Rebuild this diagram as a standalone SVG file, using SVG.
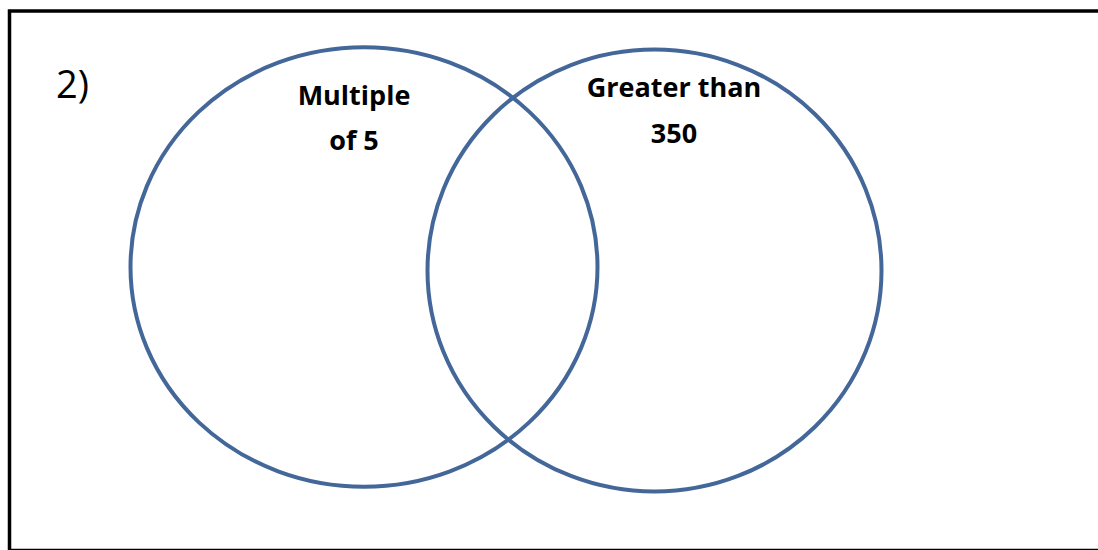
<svg xmlns="http://www.w3.org/2000/svg" width="1098" height="550" viewBox="0 0 1098 550">
  <style>
    .set { fill: none; stroke: #44679a; stroke-width: 4; }
    .lbl { font-family: "Open Sans", "Liberation Sans", sans-serif; font-weight: bold; font-size: 27px; fill: #000; text-anchor: middle; }
    .num { font-family: "Open Sans", "Liberation Sans", sans-serif; font-size: 38px; fill: #000; }
  </style>
  <rect x="0" y="0" width="1098" height="550" fill="#fff"/>
  <g id="frame">
    <rect x="9.5" y="11" width="1110" height="539.5" fill="none" stroke="#000" stroke-width="3.5"/>
    <text class="num" x="56" y="98">2)</text>
  </g>
  <g id="set-multiple-of-5">
    <ellipse class="set" cx="364" cy="267" rx="233.5" ry="219.7"/>
    <text class="lbl" x="354" y="105">Multiple</text>
    <text class="lbl" x="354" y="150">of 5</text>
  </g>
  <g id="set-greater-than-350">
    <ellipse class="set" cx="654.5" cy="270.5" rx="227" ry="221"/>
    <text class="lbl" x="674" y="97">Greater than</text>
    <text class="lbl" x="674" y="143">350</text>
  </g>
  <g id="connectors"/>
</svg>
